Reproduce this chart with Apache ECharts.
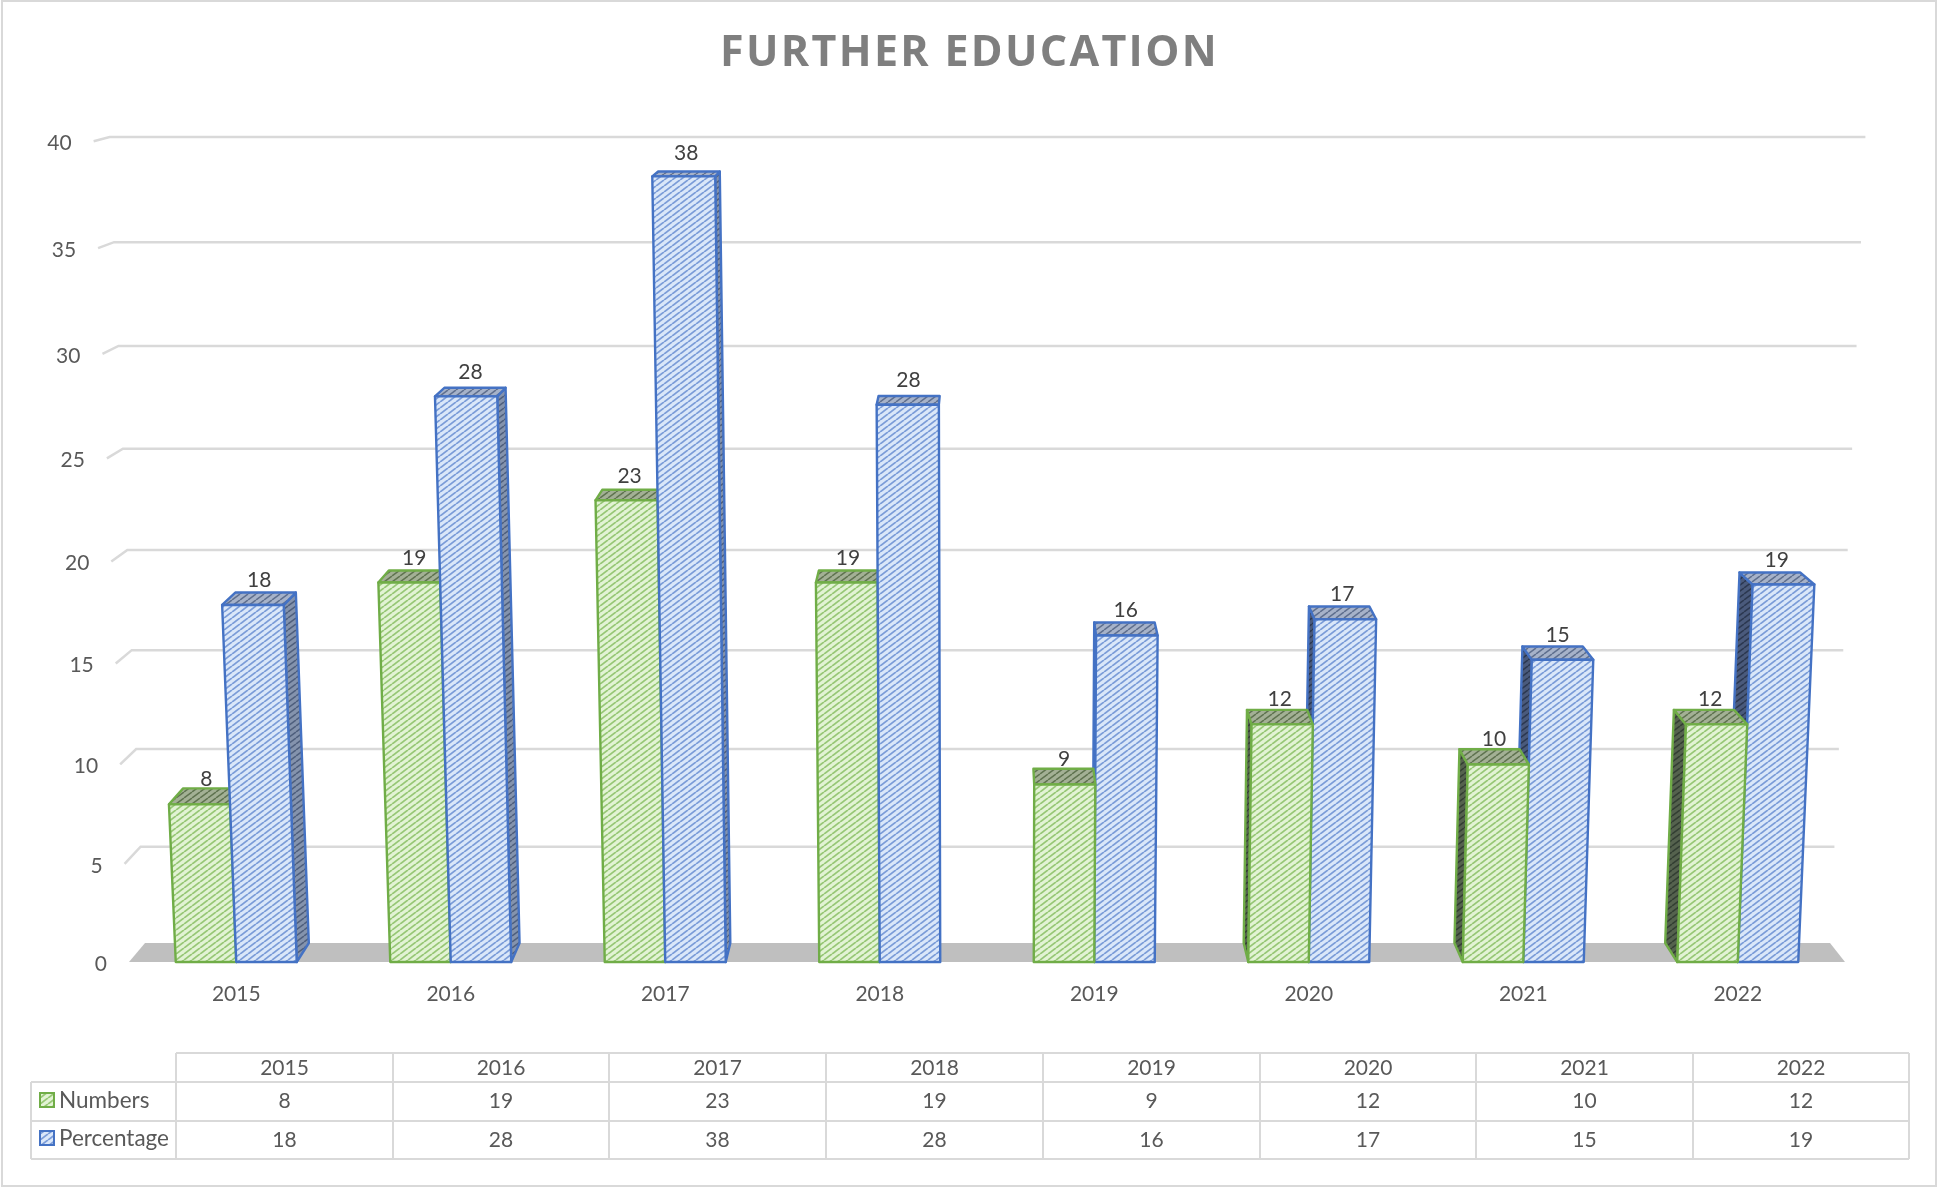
<!DOCTYPE html>
<html><head><meta charset="utf-8">
<style>html,body{margin:0;padding:0;background:#fff}#c{width:1939px;height:1187px}</style>
<script src="https://cdn.jsdelivr.net/npm/echarts@6/dist/echarts.min.js"></script>
</head><body><div id="c"></div>
<script>
const years = ['2015','2016','2017','2018','2019','2020','2021','2022'];
const numbers = [8,19,23,19,9,12,10,12];
const percentage = [17.9,28,38.4,27.6,16.4,17.2,15.2,18.9];
const valueTicks = [0,5,10,15,20,25,30,35,40];
const titleText = 'FURTHER EDUCATION';

const FONT = 'Lato';
const XC = 987, K = 0.00105, DEPTH = 0.0175;
const BASE = 962, AXIS_H = 820;

// Title letter spacing: the canvas supports it, the text stays one real string
const nativeFill = CanvasRenderingContext2D.prototype.fillText;
CanvasRenderingContext2D.prototype.fillText = function(t,x,y,m){
  const sp = this.letterSpacing;
  if (t === titleText) this.letterSpacing = '2.3px';
  nativeFill.call(this,t,x,y,m);
  this.letterSpacing = sp;
};

function hatch(bg, fg, lw){
  const w = 8, h = 6;
  const c = document.createElement('canvas'); c.width = w; c.height = h;
  const g = c.getContext('2d');
  g.fillStyle = bg; g.fillRect(0,0,w,h);
  g.strokeStyle = fg; g.lineWidth = lw;
  [[-w,h,0,0],[0,h,w,0],[w,h,2*w,0]].forEach(l=>{g.beginPath();g.moveTo(l[0],l[1]);g.lineTo(l[2],l[3]);g.stroke();});
  return {image:c, repeat:'repeat'};
}
const STYLES = {
  green:{stroke:'#70ad47',front:hatch('#e2f3d4','#97c776',1.8),top:hatch('#a3b095','#5f7350',1.5),
         sideL:hatch('#55624e','#333f33',1.5),sideR:hatch('#55624e','#333f33',1.5)},
  blue:{stroke:'#4472c4',front:hatch('#dae7f9','#7b9cd8',1.8),top:hatch('#a6b2c9','#5f6f8e',1.5),
        sideL:hatch('#4a5a7c','#2c3850',1.5),sideR:hatch('#8493ad','#4f5f7d',1.5)}
};

// Axis pixel -> drawn pixel: slight perspective of the plotted plane
function warpT(py){ return (BASE - py) / AXIS_H; }
function frontY(t){ return BASE - 780*t - 40*t*t; }
function backWallY(t){ return 943 - 766*t - 40*t*t; }
function spread(x,t){ return XC + (x-XC)*(1 + K*40*t); }
function topDepth(t){ return 19 - 14.8*t; }

function barRender(key, order){
  return function(params, api){
    const i = api.value(0), v = api.value(1);
    const p0 = api.coord([i,0]), p1 = api.coord([i,v]);
    const w = api.size([1,0])[0];
    const bw = w*0.282;
    const xL = order===0 ? p0[0]-bw : p0[0];
    const xR = xL + bw;
    const t = warpT(p1[1]);
    const yT = frontY(t), dT = topDepth(t);
    const off = x => (XC-x)*DEPTH;
    const F = [[xL,BASE],[xR,BASE],[spread(xR,t),yT],[spread(xL,t),yT]];
    const bl = spread(xL,t)+off(xL), br = spread(xR,t)+off(xR);
    const Top = [[spread(xL,t),yT],[spread(xR,t),yT],[br,yT-dT],[bl,yT-dT]];
    const s = STYLES[key];
    const z = p0[0] > XC ? (order===0?20:10) : (order===0?10:20);
    const line = {stroke:s.stroke,lineWidth:2.4,lineJoin:'round'};
    const children = [];
    if (off(xL) < -1) children.push({type:'polygon',z2:z,shape:{points:[[xL,BASE],[xL+off(xL),BASE-19],[bl,yT-dT],[spread(xL,t),yT]]},style:Object.assign({fill:s.sideL},line)});
    if (off(xR) > 1) children.push({type:'polygon',z2:z,shape:{points:[[xR,BASE],[xR+off(xR),BASE-19],[br,yT-dT],[spread(xR,t),yT]]},style:Object.assign({fill:s.sideR},line)});
    children.push({type:'polygon',z2:z+1,shape:{points:Top},style:Object.assign({fill:s.top},line)});
    children.push({type:'polygon',z2:z+2,shape:{points:F},style:Object.assign({fill:s.front},line)});
    const cx = (spread(xL,t)+spread(xR,t))/2 + off((xL+xR)/2)*0.5;
    children.push({type:'text',z2:100,style:{text:String(Math.round(v)),x:cx,y:yT-dT-(7+12*t),align:'center',verticalAlign:'middle',font:'21px '+FONT,fill:'#404040'}});
    return {type:'group',children};
  };
}

function wallRender(params, api){
  const v = api.value(1);
  const p = api.coord([0,v]);
  const t = warpT(p[1]);
  const gy = backWallY(t);
  const left = spread(145,t), right = spread(1830,t);
  const frontX = left-16, frontYv = gy + topDepth(t);
  const children = [];
  const ls = {stroke:'#d9d9d9',lineWidth:2.5};
  if (v === 0) {
    children.push({type:'polygon',shape:{points:[[129,BASE],[1845,BASE],[1830,943],[145,943]]},style:{fill:'#bfbfbf'}});
  } else {
    children.push({type:'polyline',shape:{points:[[frontX,frontYv],[left,gy],[right,gy]]},style:Object.assign({fill:'none'},ls)});
  }
  children.push({type:'text',style:{text:String(v),x:frontX-22,y:frontYv+2,align:'right',verticalAlign:'middle',font:'21px '+FONT,fill:'#595959'}});
  return {type:'group',children};
}

// Data table
const colX = [176,393,609,826,1043,1260,1476,1693,1909];
const rowY = [1053,1082,1121,1159];
const TL = 31;
const g = [];
const gridLine = (x1,y1,x2,y2)=>g.push({type:'line',silent:true,shape:{x1,y1,x2,y2},style:{stroke:'#d9d9d9',lineWidth:2}});
g.push({type:'rect',silent:true,shape:{x:2,y:1,width:1934,height:1185},style:{fill:'none',stroke:'#d9d9d9',lineWidth:2}});
gridLine(colX[0],rowY[0],colX[8],rowY[0]);
gridLine(TL,rowY[1],colX[8],rowY[1]);
gridLine(TL,rowY[2],colX[8],rowY[2]);
gridLine(TL,rowY[3],colX[8],rowY[3]);
gridLine(TL,rowY[1],TL,rowY[3]);
colX.forEach(x=>gridLine(x,rowY[0],x,rowY[3]));
const cellText=(text,x,y,align,size)=>g.push({type:'text',silent:true,style:{text:String(text),x,y,align:align||'center',verticalAlign:'middle',font:(size||21)+'px '+FONT,fill:'#595959'}});
years.forEach((yr,i)=>{
  const cx=(colX[i]+colX[i+1])/2;
  cellText(yr,cx,1068);
  cellText(numbers[i],cx,1101);
  cellText(Math.round(percentage[i]),cx,1140);
});
[['Numbers','green',1100],['Percentage','blue',1138]].forEach(r=>{
  g.push({type:'rect',silent:true,shape:{x:40,y:r[2]-7,width:14,height:14},style:{fill:STYLES[r[1]].front,stroke:STYLES[r[1]].stroke,lineWidth:2}});
  cellText(r[0],59,r[2]+1,'left',22.5);
});

const chart = echarts.init(document.getElementById('c'),null,{renderer:'canvas'});
chart.setOption({
  animation:false,
  backgroundColor:'#fff',
  title:{text:titleText,left:'center',top:27,textStyle:{fontFamily:'Open Sans',fontWeight:'bold',fontSize:43,color:'#7f7f7f'}},
  grid:{left:129,width:1716,top:BASE-AXIS_H,height:AXIS_H},
  xAxis:{type:'category',data:years,axisLine:{show:false},axisTick:{show:false},splitLine:{show:false},
    axisLabel:{margin:20,fontFamily:FONT,fontSize:21,color:'#595959',lineHeight:24}},
  yAxis:{type:'value',min:0,max:40,interval:5,show:false,splitLine:{show:false}},
  graphic:g,
  series:[
    {type:'custom',name:'Axis',z:1,silent:true,clip:false,renderItem:wallRender,data:valueTicks.map(v=>[0,v])},
    {type:'custom',name:'Numbers',z:2,silent:true,clip:false,renderItem:barRender('green',0),data:numbers.map((v,i)=>[i,v])},
    {type:'custom',name:'Percentage',z:2,silent:true,clip:false,renderItem:barRender('blue',1),data:percentage.map((v,i)=>[i,v])}
  ]
});
</script></body></html>
